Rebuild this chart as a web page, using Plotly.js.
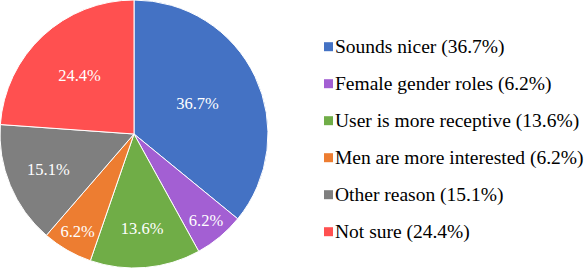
<!DOCTYPE html>
<html>
<head>
<meta charset="utf-8">
<script src="https://cdn.plot.ly/plotly-3.0.1.min.js"></script>
<style>html,body{margin:0;padding:0;background:#fff;}#chart{width:584px;height:268px;}</style>
</head>
<body>
<div id="chart"></div>
<script>
var categories = ["Sounds nicer", "Female gender roles", "User is more receptive", "Men are more interested", "Other reason", "Not sure"];
var values = [36.7, 6.2, 13.6, 6.2, 15.1, 24.4];
var sliceLabels = ["36.7%", "6.2%", "13.6%", "6.2%", "15.1%", "24.4%"];
var colors = ["#4472C4", "#A35FD3", "#70AD47", "#ED7D31", "#7F7F7F", "#FF5050"];

var W = 584, H = 268;
var font = "Liberation Serif, Times New Roman, serif";

var trace = {
  type: "pie",
  values: values,
  labels: categories,
  text: sliceLabels,
  textinfo: "text",
  textposition: "inside",
  insidetextorientation: "horizontal",
  insidetextfont: {family: font, size: 16.5, color: "#ffffff"},
  sort: false,
  direction: "clockwise",
  rotation: 0,
  marker: {colors: colors, line: {color: "#ffffff", width: 1}},
  domain: {x: [0, 268 / W], y: [0, 1]},
  showlegend: false,
  hoverinfo: "label+text"
};

var annotations = [], shapes = [];
var legX = 324, legY0 = 46.7, legStep = 37, sq = 9;
for (var i = 0; i < categories.length; i++) {
  var cy = legY0 + i * legStep;
  shapes.push({
    type: "rect", xref: "paper", yref: "paper",
    x0: legX / W, x1: (legX + sq) / W,
    y0: 1 - (cy - sq / 2) / H, y1: 1 - (cy + sq / 2) / H,
    fillcolor: colors[i], line: {width: 0}
  });
  annotations.push({
    xref: "paper", yref: "paper",
    x: (legX + sq) / W, y: 1 - cy / H,
    xanchor: "left", yanchor: "middle",
    text: categories[i] + " (" + sliceLabels[i] + ")",
    showarrow: false,
    font: {family: font, size: 19.5, color: "#000000"}
  });
}

var layout = {
  width: W, height: H,
  margin: {l: 0, r: 0, t: 0, b: 0, pad: 0},
  paper_bgcolor: "#ffffff",
  plot_bgcolor: "#ffffff",
  font: {family: font},
  showlegend: false,
  shapes: shapes,
  annotations: annotations
};

Plotly.newPlot("chart", [trace], layout, {displayModeBar: false, staticPlot: true});
</script>
</body>
</html>
